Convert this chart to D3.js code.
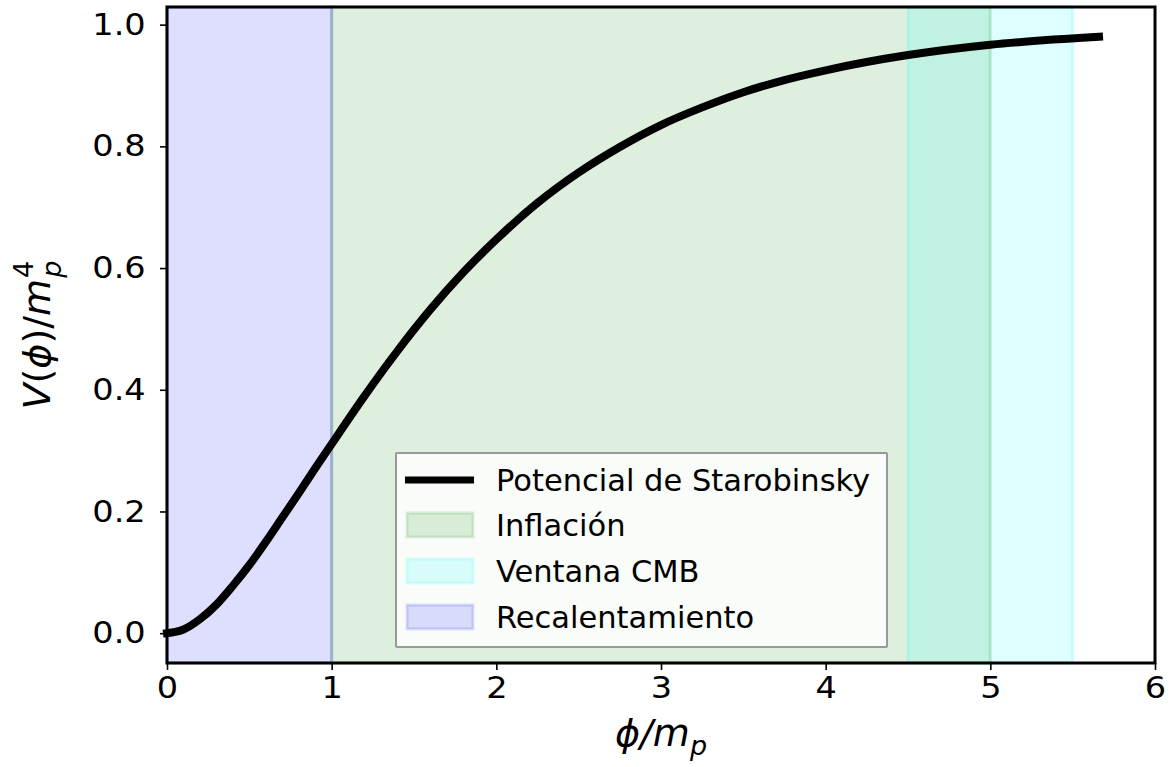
<!DOCTYPE html>
<html>
<head>
<meta charset="utf-8">
<script src="https://cdn.jsdelivr.net/npm/d3@7"></script>
<style>
  body { margin: 0; background: #fff; }
  text { font-family: "DejaVu Sans", sans-serif; fill: #000; }
</style>
</head>
<body>
<svg id="chart" width="1171" height="767"></svg>
<script>
// values
var phi = [0, 0.05, 0.1, 0.2, 0.3, 0.4, 0.5, 0.6, 0.7, 0.8, 0.9, 1.0, 1.2, 1.4, 1.6, 1.8, 2.0,
           2.25, 2.5, 2.75, 3.0, 3.25, 3.5, 3.75, 4.0, 4.5, 5.0, 5.66];
var potential = [0, 0.002, 0.006, 0.023, 0.047, 0.078, 0.112, 0.150, 0.190, 0.230, 0.271, 0.311,
                 0.390, 0.464, 0.532, 0.593, 0.647, 0.707, 0.757, 0.799, 0.835, 0.864, 0.889,
                 0.909, 0.925, 0.950, 0.967, 0.980];

// shaded regions
var spanNames = ["Inflación", "Ventana CMB", "Recalentamiento"];
var spanStart = [1, 4.5, 0];
var spanEnd = [5, 5.5, 1];
var spanColors = ["#008000", "#00ffff", "#0000ff"];

var xTicks = [0, 1, 2, 3, 4, 5, 6];
var yTicks = [0.0, 0.2, 0.4, 0.6, 0.8, 1.0];
var lineLabel = "Potencial de Starobinsky";

var svg = d3.select("#chart");
var plotL = 167, plotR = 1155, plotT = 7, plotB = 663;

var x = d3.scaleLinear().domain([0, 6]).range([plotL, plotR]);
var y = d3.scaleLinear().domain([-0.049, 1.029]).range([plotB, plotT]);

// spans
spanNames.forEach(function(name, i) {
    svg.append("rect")
        .attr("x", x(spanStart[i]))
        .attr("y", plotT)
        .attr("width", x(spanEnd[i]) - x(spanStart[i]))
        .attr("height", plotB - plotT)
        .style("fill", spanColors[i])
        .style("fill-opacity", 0.13)
        .style("stroke", spanColors[i])
        .style("stroke-opacity", 0.17)
        .style("stroke-width", 3);
});

// curve
var line = d3.line()
    .x(function(d, i) { return x(phi[i]); })
    .y(function(d) { return y(d); })
    .curve(d3.curveMonotoneX);

svg.append("path")
    .datum(potential)
    .attr("d", line)
    .style("fill", "none")
    .style("stroke", "#000")
    .style("stroke-width", 8)
    .style("stroke-linecap", "square");

// axes
var xAxis = svg.append("g")
    .attr("transform", "translate(0," + plotB + ")")
    .call(d3.axisBottom(x).tickValues(xTicks).tickFormat(d3.format("d")).tickSize(7).tickPadding(7));
var yAxis = svg.append("g")
    .attr("transform", "translate(" + plotL + ",0)")
    .call(d3.axisLeft(y).tickValues(yTicks).tickFormat(d3.format(".1f")).tickSize(7).tickPadding(12));

[xAxis, yAxis].forEach(function(g) {
    g.select(".domain").remove();
    g.selectAll(".tick line").style("stroke", "#000").style("stroke-width", 1.6);
    g.selectAll(".tick text")
        .attr("transform", "scale(1.12,1)")
        .style("font-family", "DejaVu Sans")
        .style("font-size", "30px")
        .style("fill", "#000");
});

// frame
svg.append("rect")
    .attr("x", plotL)
    .attr("y", plotT)
    .attr("width", plotR - plotL)
    .attr("height", plotB - plotT)
    .style("fill", "none")
    .style("stroke", "#000")
    .style("stroke-width", 3);

// axis labels
var xl = svg.append("text")
    .attr("x", (plotL + plotR) / 2)
    .attr("y", 746)
    .attr("text-anchor", "middle")
    .style("font-size", "38px")
    .style("font-style", "italic");
xl.append("tspan").text("ϕ/m");
xl.append("tspan").attr("dy", 9).style("font-size", "27px").text("p");

var yl = svg.append("text")
    .attr("transform", "translate(50," + 335 + ") rotate(-90)")
    .attr("text-anchor", "middle")
    .style("font-size", "38px")
    .style("font-style", "italic");
yl.append("tspan").text("V");
yl.append("tspan").style("font-style", "normal").text("(");
yl.append("tspan").text("ϕ");
yl.append("tspan").style("font-style", "normal").text(")/");
yl.append("tspan").text("m");
yl.append("tspan").attr("dx", 1).attr("dy", -17).style("font-size", "27px").style("font-style", "normal").text("4");
yl.append("tspan").attr("dx", -17).attr("dy", 28).style("font-size", "27px").text("p");

// legend
var legend = svg.append("g");
legend.append("rect")
    .attr("x", 396)
    .attr("y", 453)
    .attr("width", 491)
    .attr("height", 194)
    .attr("rx", 1)
    .style("fill", "#fff")
    .style("fill-opacity", 0.8)
    .style("stroke", "#999")
    .style("stroke-width", 2);

var rowY = [480, 525, 571, 617];
legend.append("line")
    .attr("x1", 405)
    .attr("x2", 474)
    .attr("y1", rowY[0])
    .attr("y2", rowY[0])
    .style("stroke", "#000")
    .style("stroke-width", 7);
legend.append("text")
    .attr("x", 496)
    .attr("y", rowY[0] + 11)
    .style("font-size", "30.5px")
    .text(lineLabel);

spanNames.forEach(function(name, i) {
    legend.append("rect")
        .attr("x", 407)
        .attr("y", rowY[i + 1] - 12)
        .attr("width", 66)
        .attr("height", 24)
        .style("fill", spanColors[i])
        .style("fill-opacity", 0.13)
        .style("stroke", spanColors[i])
        .style("stroke-opacity", 0.13)
        .style("stroke-width", 3);
    legend.append("text")
        .attr("x", 496)
        .attr("y", rowY[i + 1] + 11)
        .style("font-size", "30.5px")
        .text(name);
});
</script>
</body>
</html>
